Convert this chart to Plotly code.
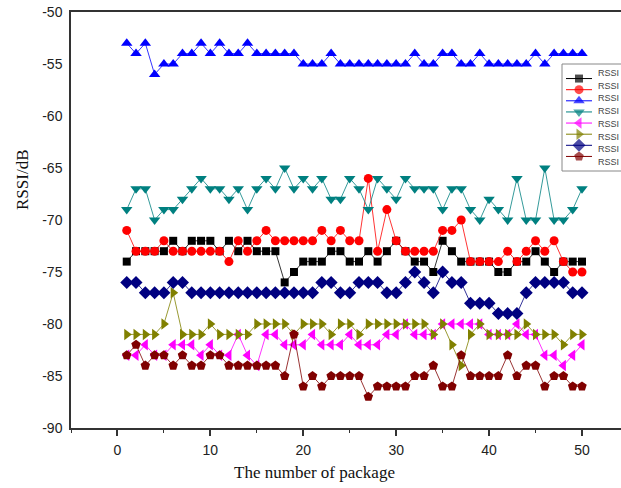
import plotly.graph_objects as go

packages = list(range(1, 51))

rssi_black = [-74,-73,-73,-73,-73,-72,-73,-72,-72,-72,-73,-72,-73,-72,-73,-73,-73,-76,-75,-74,
              -74,-74,-73,-73,-74,-74,-73,-74,-73,-72,-73,-74,-74,-75,-72,-73,-74,-74,-74,-74,
              -75,-75,-74,-74,-73,-74,-75,-74,-74,-74]
rssi_red = [-71,-73,-73,-73,-72,-73,-73,-73,-73,-73,-73,-74,-72,-73,-72,-71,-72,-72,-72,-72,
            -72,-71,-72,-71,-72,-72,-66,-73,-69,-72,-73,-73,-73,-73,-71,-71,-70,-74,-74,-74,
            -74,-73,-74,-73,-72,-73,-72,-74,-75,-75]
rssi_blue = [-53,-54,-53,-56,-55,-55,-54,-54,-53,-54,-53,-54,-54,-53,-54,-54,-54,-54,-54,-55,
             -55,-55,-54,-55,-55,-55,-55,-55,-55,-55,-55,-54,-55,-55,-54,-54,-55,-55,-54,-55,
             -55,-55,-55,-55,-54,-55,-54,-54,-54,-54]
rssi_teal = [-69,-67,-67,-70,-69,-69,-68,-67,-66,-67,-67,-68,-67,-69,-67,-66,-67,-65,-67,-66,
             -67,-66,-68,-68,-66,-67,-69,-66,-67,-68,-66,-67,-67,-67,-69,-67,-67,-69,-70,-68,
             -69,-70,-66,-70,-70,-65,-70,-70,-69,-67]
rssi_magenta = [-83,-83,-82,-83,-83,-82,-82,-82,-83,-82,-83,-83,-81,-83,-84,-81,-81,-82,-82,-82,
                -81,-82,-82,-82,-81,-82,-82,-82,-81,-81,-80,-81,-81,-81,-80,-80,-80,-80,-80,-81,
                -81,-81,-80,-81,-81,-83,-83,-84,-83,-82]
rssi_olive = [-81,-81,-81,-81,-80,-77,-81,-81,-81,-80,-81,-81,-81,-81,-80,-80,-80,-80,-81,-80,
              -80,-80,-81,-80,-80,-81,-80,-80,-80,-80,-80,-80,-80,-81,-80,-82,-84,-81,-80,-81,
              -81,-81,-81,-80,-81,-81,-81,-82,-81,-81]
rssi_navy = [-76,-76,-77,-77,-77,-76,-76,-77,-77,-77,-77,-77,-77,-77,-77,-77,-77,-77,-77,-77,
             -77,-76,-76,-77,-77,-76,-76,-76,-77,-77,-76,-75,-76,-77,-75,-76,-76,-78,-78,-78,
             -79,-79,-79,-77,-76,-76,-76,-76,-77,-77]
rssi_maroon = [-83,-82,-84,-83,-83,-84,-83,-84,-84,-83,-83,-84,-84,-84,-84,-84,-84,-85,-81,-86,
               -85,-86,-85,-85,-85,-85,-87,-86,-86,-86,-86,-85,-85,-84,-86,-86,-83,-85,-85,-85,
               -85,-83,-85,-84,-84,-86,-85,-85,-86,-86]

series_names = ["RSSI"] * 8
series_values = [rssi_black, rssi_red, rssi_blue, rssi_teal,
                 rssi_magenta, rssi_olive, rssi_navy, rssi_maroon]
series_colors = ["#000000", "#FF0000", "#0000FF", "#008080",
                 "#FF00FF", "#808000", "#000080", "#800000"]
series_symbols = ["square", "circle", "triangle-up", "triangle-down",
                  "triangle-left", "triangle-right", "diamond", "pentagon"]
series_sizes = [8, 9, 10, 10, 10, 10, 10, 10]

x_ticks = [0, 10, 20, 30, 40, 50]
x_tick_labels = ["0", "10", "20", "30", "40", "50"]
y_ticks = [-90, -85, -80, -75, -70, -65, -60, -55, -50]
y_tick_labels = ["-90", "-85", "-80", "-75", "-70", "-65", "-60", "-55", "-50"]

# figure geometry (page body margin removed via post_script)
FIG_W, FIG_H = 621, 488
ML, MR, MT, MB = 71, 0, 12, 60
PW = FIG_W - ML - MR
PH = FIG_H - MT - MB

def px_x(fx):
    return (fx - ML) / PW

def px_y(fy):
    return (FIG_H - MB - fy) / PH

fig = go.Figure()
for name, vals, color, sym, size in zip(series_names, series_values, series_colors,
                                        series_symbols, series_sizes):
    fig.add_trace(go.Scatter(
        x=packages, y=vals, name=name, mode="lines+markers", showlegend=False,
        line=dict(color=color, width=0.8),
        marker=dict(symbol=sym, size=size, color=color, line=dict(width=0)),
        xaxis="x", yaxis="y",
    ))

# custom compact legend (samples drawn on an auxiliary hidden axis pair)
n = len(series_names)
row_top, row_bot = 73, 162          # px of first/last legend rows
for i, (name, color, sym, size) in enumerate(zip(series_names, series_colors,
                                                  series_symbols, series_sizes)):
    fig.add_trace(go.Scatter(
        x=[0, 0.5, 1], y=[i + 1] * 3, mode="lines+markers", showlegend=False,
        hoverinfo="skip",
        line=dict(color=color, width=1),
        marker=dict(symbol=sym, size=[0, size, 0], color=color, line=dict(width=0)),
        xaxis="x2", yaxis="y2",
    ))

legend_annotations = []
for i, name in enumerate(series_names):
    fy = row_top + (row_bot - row_top) * i / (n - 1)
    legend_annotations.append(dict(
        text=name, xref="paper", yref="paper", x=px_x(596), y=px_y(fy),
        xanchor="left", yanchor="middle", showarrow=False,
        font=dict(family="Liberation Sans, Arial", size=9, color="#444444"),
    ))

fig.update_layout(
    width=FIG_W, height=FIG_H,
    margin=dict(l=ML, r=MR, t=MT, b=MB, autoexpand=False),
    paper_bgcolor="white", plot_bgcolor="rgba(0,0,0,0)",
    font=dict(family="Liberation Sans, Arial", size=14, color="#222222"),
    showlegend=False,
    xaxis=dict(
        range=[-5, 54.2], tickvals=x_ticks, ticktext=x_tick_labels,
        showgrid=False, zeroline=False, automargin=False,
        showline=True, linecolor="#333333", linewidth=1.5, mirror=True,
        ticks="outside", ticklen=6, tickwidth=1.5, tickcolor="#333333",
        minor=dict(dtick=5, tick0=0, ticks="outside", ticklen=3, tickcolor="#333333", tickwidth=1),
        ticklabelstandoff=2, anchor="y", domain=[0, 1],
    ),
    yaxis=dict(
        range=[-90, -50], tickvals=y_ticks, ticktext=y_tick_labels,
        showgrid=False, zeroline=False, automargin=False,
        showline=True, linecolor="#333333", linewidth=1.5,
        ticks="", ticklabelstandoff=4, anchor="x", domain=[0, 1],
        ticklabeloverflow="allow",
    ),
    xaxis2=dict(domain=[px_x(566), px_x(592)], range=[0, 1], visible=False,
                anchor="y2", fixedrange=True),
    yaxis2=dict(domain=[px_y(row_bot), px_y(row_top)], range=[n + 0.5, 0.5], visible=False,
                anchor="x2", fixedrange=True),
    shapes=[dict(type="rect", xref="paper", yref="paper",
                 x0=px_x(562), x1=px_x(640), y0=px_y(171), y1=px_y(64),
                 line=dict(color="#888888", width=1), fillcolor="white", layer="below")],
    annotations=[
        dict(text="RSSI/dB", xref="paper", yref="paper", x=px_x(22), y=px_y(180),
             xanchor="center", yanchor="middle", showarrow=False, textangle=-90,
             font=dict(family="Liberation Serif, Times New Roman", size=17, color="#111111")),
        dict(text="The number of package", xref="paper", yref="paper", x=px_x(314), y=px_y(472),
             xanchor="center", yanchor="middle", showarrow=False,
             font=dict(family="Liberation Serif, Times New Roman", size=17, color="#111111")),
    ] + legend_annotations,
)

fig.write_html("out.html", config={"displayModeBar": False},
               post_script="document.body.style.margin='0';")
